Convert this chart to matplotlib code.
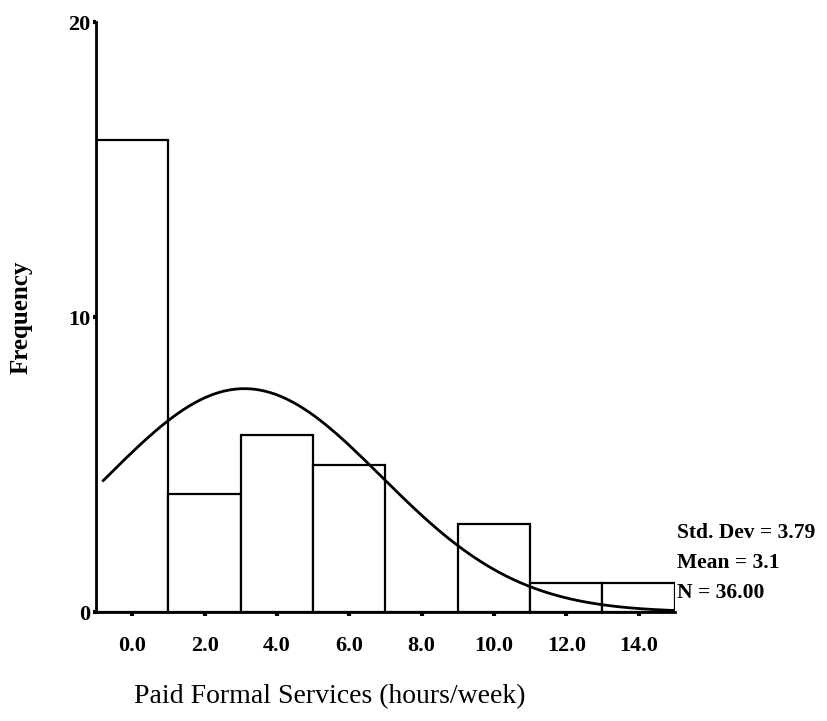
import numpy as np
import matplotlib.pyplot as plt

# histogram bins (centres) and counts
bin_centres = [0, 2, 4, 6, 8, 10, 12, 14]
counts = [16, 4, 6, 5, 0, 3, 1, 1]
bin_width = 2.0

# summary statistics printed on the chart
std_dev = 3.79
mean = 3.1
n = 36.00

tick_pos = [0, 2, 4, 6, 8, 10, 12, 14]
tick_labels = ['0.0', '2.0', '4.0', '6.0', '8.0', '10.0', '12.0', '14.0']

plt.rcParams['font.family'] = ['Liberation Serif', 'DejaVu Serif']

fig = plt.figure(figsize=(8.28, 7.21), dpi=100)
ax = fig.add_axes([0.116, 0.151, 0.699, 0.818])

ax.bar(bin_centres, counts, width=bin_width, color='white',
       edgecolor='black', linewidth=1.6)

# normal curve fitted from the printed mean / sd, scaled to counts
xs = np.linspace(-0.8, 15, 200)
ys = n * bin_width * np.exp(-0.5 * ((xs - mean) / std_dev) ** 2) / (std_dev * np.sqrt(2 * np.pi))
ax.plot(xs, ys, color='black', linewidth=2)

ax.set_xlim(-1, 15)
ax.set_ylim(0, 20)
ax.spines['top'].set_visible(False)
ax.spines['right'].set_visible(False)
ax.spines['left'].set_linewidth(2)
ax.spines['bottom'].set_linewidth(2)

ax.set_xticks(tick_pos)
ax.set_xticklabels(tick_labels, fontweight='bold', fontsize=16)
ax.set_yticks([0, 10, 20])
ax.set_yticklabels(['0', '10', '20'], fontweight='bold', fontsize=16)
ax.tick_params(axis='x', direction='out', length=3, width=3, pad=14)
ax.tick_params(axis='y', direction='out', length=2, width=3, pad=2)

ax.set_ylabel('Frequency', fontsize=18, fontweight='bold', labelpad=26)
ax.set_xlabel('Paid Formal Services (hours/week)', fontsize=20)
ax.xaxis.set_label_coords(0.404, -0.122)

stats = [f'Std. Dev = {std_dev:.2f}', f'Mean = {mean:.1f}', f'N = {n:.2f}']
for i, s in enumerate(stats):
    fig.text(0.818, 0.261 - i * 0.0415, s, fontsize=15.5, fontweight='bold',
             va='center', ha='left')

fig.savefig('out.png', dpi=100)
